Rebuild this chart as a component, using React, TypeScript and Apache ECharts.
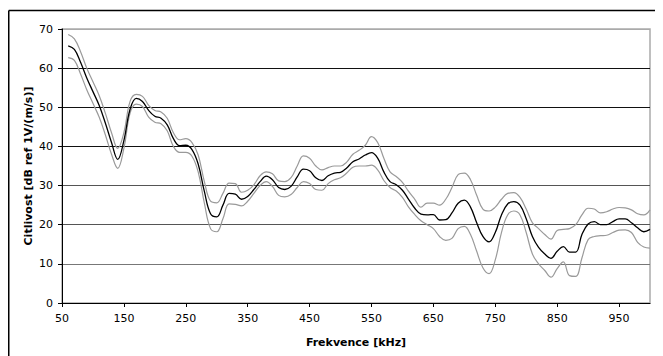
import React, { useEffect, useRef } from "react";
import * as echarts from "echarts";

const freq: number[] = [
  60, 70, 80, 90, 100, 110, 120, 130, 140, 150, 160, 170, 180, 190, 200, 210, 220, 230, 240, 250,
  260, 270, 280, 290, 300, 310, 320, 330, 340, 350, 360, 370, 380, 390, 400, 410, 420, 430, 440, 450,
  460, 470, 480, 490, 500, 510, 520, 530, 540, 550, 560, 570, 580, 590, 600, 610, 620, 630, 640, 650,
  660, 670, 680, 690, 700, 710, 720, 730, 740, 750, 760, 770, 780, 790, 800, 810, 820, 830, 840, 850,
  860, 870, 880, 890, 900, 910, 920, 930, 940, 950, 960, 970, 980, 990, 1000,
];

const meanVals: number[] = [
  65.7, 64.8, 61.5, 57.5, 54, 50.5, 46, 41, 36.7, 41.5, 49.5, 52.3, 51.5, 49.2, 47.7, 47.2, 45.5, 42, 40.2, 40.3,
  39.2, 35.5, 28.5, 22.8, 22, 25, 28, 27.8, 26.5, 27.2, 29, 31, 32.4, 31.5, 29.5, 29, 29.8, 32.2, 34.2, 33.8,
  32, 31.3, 32.5, 33.2, 33.4, 34.5, 36.1, 36.8, 37.8, 38.4, 37, 33.5, 31, 30.2, 28.8, 26.5, 24.2, 22.7, 22.5, 22.6,
  21.2, 21.3, 23, 25.5, 26.3, 24.5, 20.5, 17, 15.6, 18, 22.5, 25.3, 25.9, 25, 21.5, 17, 14.2, 12.5, 11.4, 13.2,
  14.4, 13, 13, 17.5, 20.2, 20.8, 20, 20, 20.8, 21.5, 21.5, 20.5, 19.2, 18.2, 18.8,
];

const upperVals: number[] = [
  68.6, 67.5, 64.2, 60, 56.5, 53, 48.5, 43.5, 39.5, 43.5, 51.5, 53.3, 52.8, 50.5, 49.2, 48.8, 47.2, 43.5, 41.7, 42,
  41, 37.8, 31, 26, 25.6, 28, 30.6, 30.5, 28.3, 28.8, 30.2, 32.5, 33.5, 33, 31.2, 31, 32, 35, 37.6, 37,
  35, 34, 34.6, 35, 35, 36, 38, 39, 40.3, 42.5, 41, 37, 33.5, 32.3, 30.8, 28.5, 26.5, 24.5, 25.5, 25.5,
  25, 26.5, 29.5, 32.8, 33.2, 31.5, 27.5, 24, 23.5, 24.5, 26.5, 28, 28.2, 27, 24, 20.5, 19, 17.5, 16.3, 18.5,
  18.8, 19, 20, 22.5, 24.2, 24, 23, 23.3, 24, 24.4, 24.3, 23.8, 22.8, 22.5, 23.8,
];

const lowerVals: number[] = [
  62.7, 62, 58.5, 54.5, 51, 47.5, 43, 38, 34.4, 39.5, 48.5, 50.8, 50.2, 47.5, 46.2, 45.8, 44, 40, 38.5, 38.5,
  37.5, 33.5, 25.5, 19, 18.2, 21.5, 25.3, 25.2, 24.8, 26, 28, 30, 31, 29.8, 27.5, 27.1, 27.7, 29.5, 31, 30.5,
  29, 28.8, 30.5, 31.5, 32, 33.2, 34.7, 35, 35, 35.2, 34, 31.3, 29.5, 28.6, 27, 24.5, 22.6, 21, 20, 19,
  17, 16, 16.5, 19, 19.6, 17.5, 13.2, 9, 7.5, 11, 18, 22.5, 23.5, 22.5, 18, 12.5, 10, 8.3, 6.6, 8.8,
  10.5, 7, 6.8, 11.5, 16.2, 17, 17.2, 17.3, 18, 18.6, 18.7, 18, 15.5, 14.3, 14,
];

const xTickValues: number[] = [50, 150, 250, 350, 450, 550, 650, 750, 850, 950];

const FONT = "'DejaVu Sans', 'Liberation Sans', Arial, sans-serif";

function pairs(vals: number[]): number[][] {
  return freq.map((f, i) => [f, vals[i]]);
}

export default function App() {
  const ref = useRef<HTMLDivElement>(null);

  useEffect(() => {
    if (!ref.current) return;
    document.body.style.overflow = "hidden";
    document.documentElement.style.overflow = "hidden";
    const chart = echarts.init(ref.current, undefined, { renderer: "svg" });
    chart.setOption({
      animation: false,
      backgroundColor: "#fff",
      graphic: [
        {
          type: "line",
          shape: { x1: 0.75, y1: 2.5, x2: 700, y2: 2.5 },
          style: { stroke: "#000", lineWidth: 1.5 },
          silent: true,
          z: 100,
        },
        {
          type: "line",
          shape: { x1: 0.75, y1: 2.5, x2: 0.75, y2: 400 },
          style: { stroke: "#000", lineWidth: 1.5 },
          silent: true,
          z: 100,
        },
      ],
      grid: {
        left: 54,
        top: 21,
        right: 13,
        bottom: 53,
        show: true,
        borderColor: "#aaa",
        borderWidth: 1.5,
        backgroundColor: "transparent",
      },
      xAxis: {
        type: "value",
        min: 50,
        max: 1000,
        name: "Frekvence [kHz]",
        nameLocation: "middle",
        nameGap: 34,
        nameMoveOverlap: false,
        nameTextStyle: { fontFamily: FONT, fontSize: 11, fontWeight: "bold", color: "#000" },
        axisLine: { show: true, lineStyle: { color: "#000", width: 1 } },
        axisTick: { show: true, length: 4, customValues: xTickValues, lineStyle: { color: "#000" } },
        axisLabel: {
          customValues: xTickValues,
          fontFamily: FONT,
          fontSize: 11,
          color: "#000",
          margin: 10,
        },
        splitLine: { show: false },
      },
      yAxis: {
        type: "value",
        min: 0,
        max: 70,
        interval: 10,
        name: "Citlivost [dB ref 1V/(m/s)]",
        nameLocation: "middle",
        nameGap: 28,
        nameMoveOverlap: false,
        nameRotate: 90,
        nameTextStyle: { fontFamily: FONT, fontSize: 11, fontWeight: "bold", color: "#000" },
        axisLine: { show: true, lineStyle: { color: "#000", width: 1 } },
        axisTick: { show: true, length: 4, lineStyle: { color: "#000" } },
        axisLabel: { fontFamily: FONT, fontSize: 11, color: "#000", margin: 9 },
        splitLine: {
          show: true,
          lineStyle: {
            color: ["#000", "#777", "#555", "#555", "#111", "#111", "#111", "#aaa"],
            width: 1,
          },
        },
      },
      series: [
        {
          name: "upper",
          type: "line",
          data: pairs(upperVals),
          smooth: 0.4,
          showSymbol: false,
          lineStyle: { color: "#9a9a9a", width: 1.2 },
          z: 2,
        },
        {
          name: "lower",
          type: "line",
          data: pairs(lowerVals),
          smooth: 0.4,
          showSymbol: false,
          lineStyle: { color: "#9a9a9a", width: 1.2 },
          z: 2,
        },
        {
          name: "mean",
          type: "line",
          data: pairs(meanVals),
          smooth: 0.4,
          showSymbol: false,
          lineStyle: { color: "#000", width: 1.3 },
          z: 3,
        },
      ],
    });
    return () => chart.dispose();
  }, []);

  return <div ref={ref} style={{ width: 655, height: 348 }} />;
}
